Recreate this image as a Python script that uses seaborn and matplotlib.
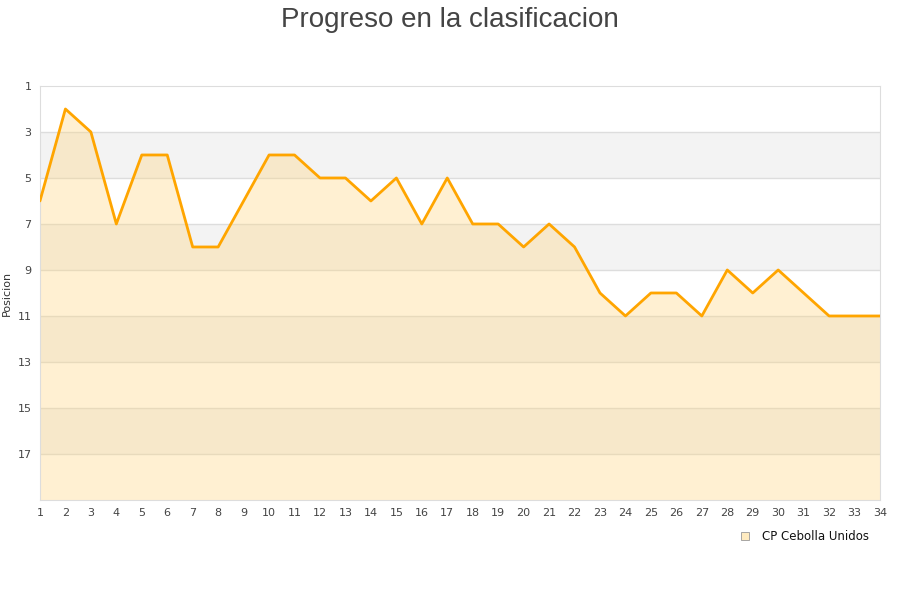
import matplotlib
matplotlib.use('Agg')
import matplotlib.pyplot as plt
import seaborn as sns
import pandas as pd

jornadas = list(range(1, 35))
posicion = [6, 2, 3, 7, 4, 4, 8, 8, 6, 4, 4, 5, 5, 6, 5, 7, 5, 7, 7, 8,
            7, 8, 10, 11, 10, 10, 11, 9, 10, 9, 10, 11, 11, 11]
equipo = 'CP Cebolla Unidos'

df = pd.DataFrame({'Jornada': jornadas, 'Posicion': posicion})

sns.set_style('white')
plt.rcParams['font.family'] = ['DejaVu Sans']

fig = plt.figure(figsize=(9, 6), dpi=100)
ax = fig.add_axes([0.0444, 0.1667, 0.9334, 0.69])

# franjas alternas
for y0 in range(3, 19, 4):
    ax.axhspan(y0, y0 + 2, color='#f3f3f3', zorder=0, lw=0)
for y in range(3, 19, 2):
    ax.axhline(y, color='#dddddd', lw=1, zorder=1)

ax.fill_between(df['Jornada'], df['Posicion'], 19, color='#ffd680', alpha=0.35,
                lw=0, zorder=2)
sns.lineplot(x='Jornada', y='Posicion', data=df, color='#ffa500', lw=2,
             ax=ax, zorder=3)

ax.set_xlim(1, 34)
ax.set_ylim(19, 1)
ax.set_xticks(jornadas)
ax.set_yticks(range(1, 19, 2))
ax.tick_params(labelsize=8, colors='#444444', length=0, pad=6)
ax.set_xlabel('')
ax.set_ylabel('Posicion', fontsize=8, color='#333333')
for s in ax.spines.values():
    s.set_color('#dddddd')

fig.suptitle('Progreso en la clasificacion', fontsize=20, color='#444444', y=0.988,
             family='Liberation Sans')

handle = plt.Line2D([], [], marker='s', ls='', markersize=6,
                    markerfacecolor='#ffebc0', markeredgecolor='#999999', markeredgewidth=0.6)
fig.legend([handle], [equipo], loc='center', bbox_to_anchor=(0.89, 0.105),
           frameon=False, fontsize=8.5, handletextpad=0.5, labelcolor='#111111')

fig.savefig('out.png', dpi=100)
